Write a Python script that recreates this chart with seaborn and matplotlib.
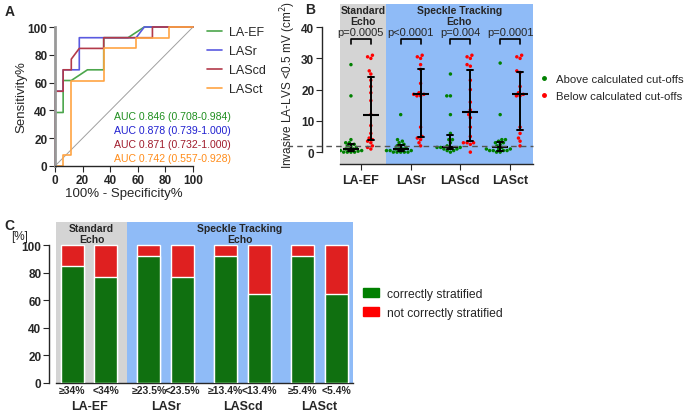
import numpy as np
import pandas as pd
import matplotlib
matplotlib.use("Agg")
import matplotlib.pyplot as plt
from matplotlib.lines import Line2D
from matplotlib.patches import Patch
import seaborn as sns

# ---------------- data ----------------
# Panel A: ROC curves (100% - specificity, sensitivity)
roc_names = ["LA-EF", "LASr", "LAScd", "LASct"]
roc_colors = ["#4ca64c", "#5a5ae0", "#b33a4a", "#ffa443"]
auc_colors = ["#1f8f1f", "#2020d0", "#a01c2c", "#ff8c1a"]
auc_texts = ["AUC 0.846 (0.708-0.984)", "AUC 0.878 (0.739-1.000)",
             "AUC 0.871 (0.732-1.000)", "AUC 0.742 (0.557-0.928)"]

fpr_laef = [0, 0, 5.9, 5.9, 11.8, 23.5, 35.3, 35.3, 52.9, 64.7, 100]
tpr_laef = [0, 38.5, 38.5, 61.5, 61.5, 69.2, 69.2, 92.3, 92.3, 100, 100]
fpr_lasr = [0, 0, 5.9, 5.9, 17.6, 17.6, 58.8, 64.7, 100]
tpr_lasr = [0, 53.8, 53.8, 69.2, 69.2, 92.3, 92.3, 100, 100]
fpr_lascd = [0, 0, 5.9, 5.9, 11.8, 11.8, 17.6, 35.3, 35.3, 70.6, 70.6, 100]
tpr_lascd = [0, 53.8, 53.8, 69.2, 69.2, 76.9, 84.6, 84.6, 92.3, 92.3, 100, 100]
fpr_lasct = [0, 5.9, 5.9, 11.8, 11.8, 35.3, 35.3, 58.8, 58.8, 82.4, 82.4, 100]
tpr_lasct = [0, 0, 7.7, 7.7, 61.5, 61.5, 84.6, 84.6, 92.3, 92.3, 100, 100]

# Panel B: invasive LA-LVS per marker, above / below cut-off
lvs_laef_above = [28, 18, 4, 3, 3, 2.5, 2, 2, 1.5, 1, 1, 1, 0.5, 0.5, 0.5, 0.3, 0, 0, 0, 0]
lvs_laef_below = [31, 30.5, 30, 26, 25, 23, 21, 19, 16.5, 12, 8.5, 6, 4.5, 4, 3.5, 3, 2, 1.5, 1]
lvs_lasr_above = [12, 4, 3.5, 3, 2.5, 2, 2, 1.5, 1, 1, 1, 0.5, 0.5, 0.5, 0, 0, 0, 0, 0]
lvs_lasr_below = [31, 30.5, 30, 28, 26.5, 22, 19, 18.5, 18.5, 18, 18, 8, 5, 4.5, 4, 3, 2]
lvs_lascd_above = [25, 18, 18, 12, 6, 4, 4, 3, 2, 1.5, 1.5, 1.5, 1.5, 1, 1, 0.5, 0.5, 0]
lvs_lascd_below = [31, 30.5, 30, 28, 27.5, 23, 20, 16, 13.5, 12, 11, 8, 5, 3, 3, 3, 2.5, 0]
lvs_lasct_above = [28.5, 12, 4, 4, 3.5, 3, 3, 2.5, 2, 1.5, 1, 1, 1, 0.5, 0.5, 0.5, 0.5, 0, 0]
lvs_lasct_below = [31, 30.5, 30, 26, 25.5, 21, 19, 18.5, 18, 18, 8, 6, 4.5, 3.5, 2]
p_values = ["p=0.0005", "p<0.0001", "p=0.004", "p=0.0001"]
lvs_cutoff = 2

# Panel C: correctly stratified patients [%]
strat_markers = ["LA-EF", "LASr", "LAScd", "LASct"]
thr_above = ["\u226534%", "\u226523.5%", "\u226513.4%", "\u22655.4%"]
thr_below = ["<34%", "<23.5%", "<13.4%", "<5.4%"]
correct_above = [84.6, 91.7, 91.7, 91.7]
correct_below = [76.9, 76.9, 64.7, 64.7]

GREY = "#d4d4d4"
BLUE = "#8fbbf7"
GREEN = "#008000"
RED = "#ff0000"

sns.set_style("ticks")
plt.rcParams["font.family"] = ["Liberation Sans", "DejaVu Sans"]
plt.rcParams["axes.linewidth"] = 1.0

fig = plt.figure(figsize=(6.85, 4.14), dpi=100)

# ---------------- Panel A ----------------
axA = fig.add_axes([55 / 685, 1 - 167 / 414, 138 / 685, 139 / 414])
rows = []
for name, fx, fy in zip(roc_names, [fpr_laef, fpr_lasr, fpr_lascd, fpr_lasct],
                        [tpr_laef, tpr_lasr, tpr_lascd, tpr_lasct]):
    for i, (a, b) in enumerate(zip(fx, fy)):
        rows.append({"marker": name, "order": i, "fpr": a, "tpr": b})
dfA = pd.DataFrame(rows)
axA.plot([0, 100], [0, 100], color="#a0a0a0", lw=0.7, zorder=1)
sns.lineplot(data=dfA, x="fpr", y="tpr", hue="marker", palette=roc_colors,
             sort=False, estimator=None, lw=1.2, ax=axA, legend=False, clip_on=False)
axA.set_xlim(0, 100)
axA.set_ylim(0, 100)
axA.set_xticks(range(0, 101, 20))
axA.set_yticks(range(0, 101, 20))
for lab in axA.get_xticklabels() + axA.get_yticklabels():
    lab.set_fontweight("bold")
axA.tick_params(labelsize=8.5, length=4, pad=1.5)
axA.set_xlabel("100% - Specificity%", fontsize=9.5, labelpad=1)
axA.set_ylabel("Sensitivity%", fontsize=9.5)
axA.yaxis.set_label_coords(-0.2, 0.5)
sns.despine(ax=axA)
axA.spines["left"].set_color("#999999")
axA.spines["left"].set_linewidth(2)
for k, (txt, col) in enumerate(zip(auc_texts, auc_colors)):
    axA.text(43, 36 - k * 10.1, txt, color=col, fontsize=7.6, va="center", ha="left")
handlesA = [Line2D([], [], color=c, lw=1.2) for c in roc_colors]
fig.legend(handlesA, roc_names, loc="upper left", bbox_to_anchor=(196 / 685, 1 - 16 / 414),
           frameon=False, fontsize=9, handlelength=1.2, labelspacing=0.55, handletextpad=0.55)
fig.text(5 / 685, 1 - 12 / 414, "A", fontsize=10, fontweight="bold", va="center")

# ---------------- Panel B ----------------
axB = fig.add_axes([340 / 685, 1 - 165 / 414, 193 / 685, 160 / 414])
rows = []
for name, above, below in zip(roc_names,
                              [lvs_laef_above, lvs_lasr_above, lvs_lascd_above, lvs_lasct_above],
                              [lvs_laef_below, lvs_lasr_below, lvs_lascd_below, lvs_lasct_below]):
    rows += [{"marker": name, "group": "Above", "value": v} for v in above]
    rows += [{"marker": name, "group": "Below", "value": v} for v in below]
dfB = pd.DataFrame(rows)

axB.axvspan(-0.42, 0.5, color=GREY, lw=0, zorder=0)
axB.axvspan(0.5, 3.46, color=BLUE, lw=0, zorder=0)
sns.swarmplot(data=dfB, x="marker", y="value", hue="group", dodge=True,
              palette=[GREEN, RED], size=2.5, ax=axB, legend=False, zorder=3,
              warn_thresh=1)
sns.pointplot(data=dfB, x="marker", y="value", hue="group", dodge=0.4,
              estimator="median", errorbar=("pi", 50), palette=["black", "black"],
              markers="_", markersize=11, markeredgewidth=1.5, linestyle="none",
              capsize=0.12, err_kws={"linewidth": 1.4}, ax=axB, legend=False)
for c in axB.collections:
    c.set_zorder(3)
for l in axB.lines:
    l.set_zorder(4)
axB.axhline(lvs_cutoff, xmin=-0.275, xmax=1, color="#555555", lw=1, ls=(0, (4, 3)),
            clip_on=False, zorder=5)
axB.set_xlim(-0.42, 3.46)
axB.set_ylim(-3.8, 47.4)
axB.set_yticks(range(0, 41, 10))
axB.spines["left"].set_bounds(0, 40)
axB.spines["left"].set_position(("outward", 13))
axB.spines["top"].set_visible(False)
axB.spines["right"].set_visible(False)
for lab in axB.get_xticklabels() + axB.get_yticklabels():
    lab.set_fontweight("bold")
axB.tick_params(labelsize=8.5, length=4, pad=1.5)
axB.tick_params(axis="x", labelsize=9, pad=3)
axB.set_xlabel("")
axB.set_ylabel("Invasive LA-LVS <0.5 mV (cm$^2$)", fontsize=8.5)
axB.yaxis.set_label_coords(-0.22, 0.5)
for i, p in enumerate(p_values):
    axB.plot([i - 0.2, i - 0.2, i + 0.2, i + 0.2], [34.6, 36.2, 36.2, 34.6],
             color="black", lw=1.2)
    axB.text(i, 38.4, p, ha="center", va="center", fontsize=8)
axB.text(0.04, 43.6, "Standard\nEcho", ha="center", va="center", fontsize=7.5,
         fontweight="bold", linespacing=1.1)
axB.text(1.98, 43.6, "Speckle Tracking\nEcho", ha="center", va="center", fontsize=7.5,
         fontweight="bold", linespacing=1.1)
handlesB = [Line2D([], [], ls="none", marker="o", ms=2.5, color=c) for c in [GREEN, RED]]
fig.legend(handlesB, ["Above calculated cut-offs", "Below calculated cut-offs"],
           loc="upper left", bbox_to_anchor=(528 / 685, 1 - 65 / 414), frameon=False,
           fontsize=8.2, handlelength=1.0, labelspacing=0.6, handletextpad=0.6)
fig.text(305 / 685, 1 - 10 / 414, "B", fontsize=10, fontweight="bold", va="center")

# ---------------- Panel C ----------------
axC = fig.add_axes([56 / 685, 1 - 384 / 414, 297 / 685, 161 / 414])
dfC = pd.DataFrame({
    "marker": strat_markers * 2,
    "cut": ["above"] * 4 + ["below"] * 4,
    "correct": correct_above + correct_below,
})
dfC["total"] = 100.0
axC.axvspan(-0.43, 0.5, color=GREY, lw=0, zorder=0)
axC.axvspan(0.5, 3.435, color=BLUE, lw=0, zorder=0)
sns.barplot(data=dfC, x="marker", y="total", hue="cut", palette=[RED, RED],
            width=0.88, gap=0.32, ax=axC, legend=False, zorder=2)
n_red = len(axC.containers)
sns.barplot(data=dfC, x="marker", y="correct", hue="cut", palette=[GREEN, GREEN],
            width=0.88, gap=0.32, ax=axC, legend=False, zorder=3)
green_conts = axC.containers[n_red:]
for cont, labels in zip(green_conts, [thr_above, thr_below]):
    for bar, lab in zip(cont.patches, labels):
        axC.text(bar.get_x() + bar.get_width() / 2, -0.015, lab,
                 transform=axC.get_xaxis_transform(), ha="center", va="top",
                 fontsize=7.5, fontweight="bold")
axC.set_xlim(-0.43, 3.435)
axC.set_ylim(0, 116.7)
axC.set_yticks(range(0, 101, 20))
axC.spines["left"].set_bounds(0, 100)
axC.spines["left"].set_position(("outward", 5))
axC.spines["top"].set_visible(False)
axC.spines["right"].set_visible(False)
axC.tick_params(axis="x", length=0, pad=12, labelsize=9)
axC.tick_params(axis="y", length=4, pad=1.5, labelsize=8.5)
for lab in axC.get_xticklabels() + axC.get_yticklabels():
    lab.set_fontweight("bold")
axC.set_xlabel("")
axC.set_ylabel("")
axC.text(0.035, 108.3, "Standard\nEcho", ha="center", va="center", fontsize=7.5,
         fontweight="bold", linespacing=1.1)
axC.text(1.96, 108.3, "Speckle Tracking\nEcho", ha="center", va="center", fontsize=7.5,
         fontweight="bold", linespacing=1.1)
fig.text(11 / 685, 1 - 237 / 414, "[%]", fontsize=8.5, va="center")
handlesC = [Patch(color=GREEN), Patch(color=RED)]
fig.legend(handlesC, ["correctly stratified", "not correctly stratified"],
           loc="upper left", bbox_to_anchor=(352 / 685, 1 - 278 / 414), frameon=False,
           fontsize=8.7, handlelength=1.3, handleheight=0.7, labelspacing=0.55,
           handletextpad=0.7)
fig.text(4 / 685, 1 - 226 / 414, "C", fontsize=10, fontweight="bold", va="center")

fig.savefig("out.png", dpi=100)
